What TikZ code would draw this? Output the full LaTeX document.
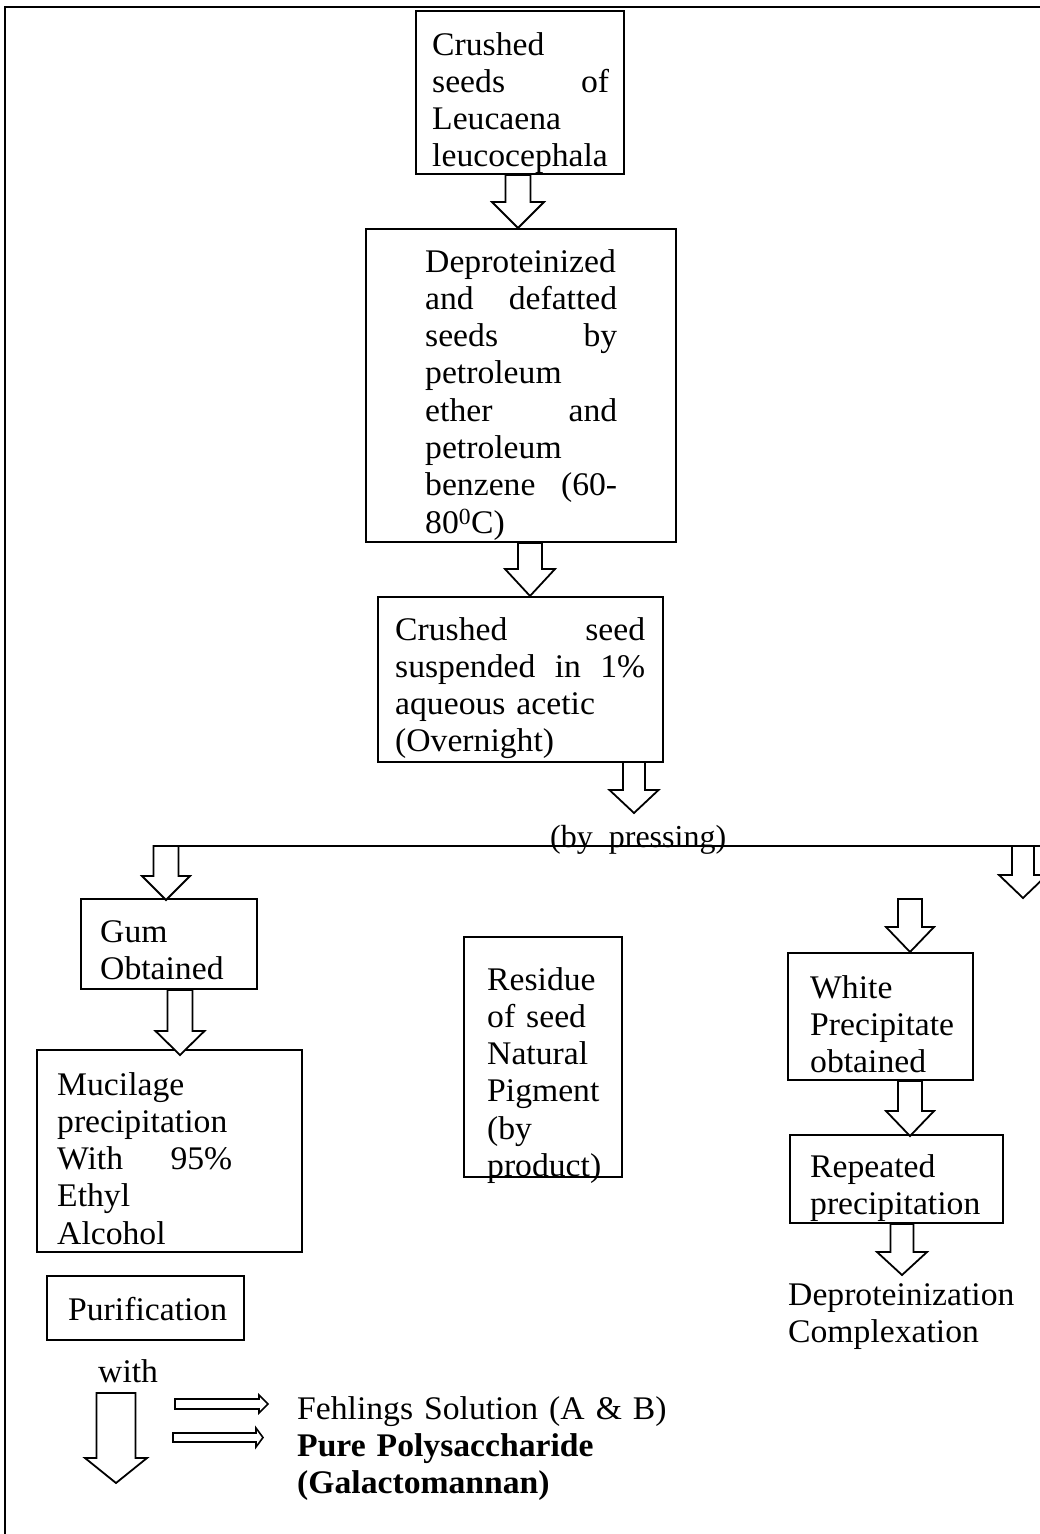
\documentclass[tikz,border=0pt]{standalone}
\usepackage{fontspec}
\setmainfont{Liberation Serif}[FakeStretch=1.02]
\newfontfamily\pressfont{Liberation Serif}
\usetikzlibrary{calc}
\tikzset{
  box/.style={draw, line width=2pt, inner sep=0pt},
  barrow/.style={draw, line width=1.8pt, fill=white, line join=miter},
  txt/.style={inner sep=0pt, anchor=base west, align=left, text width=330pt,
    font=\fontsize{33}{37.3}\selectfont},
  frame/.style={line width=2.6pt},
  pressline/.style={line width=1.3pt},
}
\newcommand{\J}[2]{\makebox[#1pt][l]{#2}}
\newcommand{\boxnode}[5]{\node[box, minimum width={(#4-#2)*1pt}, minimum height={(#5-#3)*1pt}] (#1) at ({(#2+#4)/2},{(#3+#5)/2}) {};}
% vertical block arrow: #1 start (top centre), #2 end (tip y), #3 shaft half, #4 head half, #5 head length
\newcommand{\blockdown}[5]{%
  \draw[barrow] let \p1=#1, \p2=#2 in
    (\x1-#3pt,\y1) -- (\x1+#3pt,\y1) -- (\x1+#3pt,\y2+#5pt) -- (\x1+#4pt,\y2+#5pt)
    -- (\x1,\y2) -- (\x1-#4pt,\y2+#5pt) -- (\x1-#3pt,\y2+#5pt) -- cycle;}
% horizontal block arrow
\newcommand{\blockright}[5]{%
  \draw[barrow, line width=1.6pt] let \p1=#1, \p2=#2 in
    (\x1,\y1+#3pt) -- (\x2-#5pt,\y1+#3pt) -- (\x2-#5pt,\y1+#4pt) -- (\x2,\y1)
    -- (\x2-#5pt,\y1-#4pt) -- (\x2-#5pt,\y1-#3pt) -- (\x1,\y1-#3pt) -- cycle;}
\begin{document}
\begin{tikzpicture}[x=1pt,y=-1pt]
\useasboundingbox (0,0) rectangle (1039,1534);
\fill[white] (0,0) rectangle (1039,1534);
% outer frame
\draw[frame] (5,1540) -- (5,7) -- (1045,7);

% boxes
\boxnode{b1}{416}{11}{624}{174}
\boxnode{b2}{366}{229}{676}{542}
\boxnode{b3}{378}{597}{663}{762}
\boxnode{gum}{81}{899}{257}{989}
\boxnode{muc}{37}{1050}{302}{1252}
\boxnode{pur}{47}{1276}{244}{1340}
\boxnode{res}{464}{937}{622}{1177}
\boxnode{white}{788}{953}{973}{1080}
\boxnode{rep}{790}{1135}{1003}{1223}

% texts
\node[txt] (t1) at (432,55) {Crushed\\ \J{177}{seeds\hfill of}\\ Leucaena\\ leucocephala};
\node[txt] (t2) at (425,272) {Deproteinized\\ \J{192}{and\hfill defatted}\\ \J{192}{seeds\hfill by}\\ petroleum\\ \J{192}{ether\hfill and}\\ petroleum\\ \J{192}{benzene\hfill (60-}\\ 80\textsuperscript{0}C)};
\node[txt] (t3) at (395,640) {\J{250}{Crushed\hfill seed}\\ \J{250}{suspended\hfill in\hfill 1\%}\\ aqueous acetic\\ (Overnight)};
\node[txt] (tgum) at (100,942) {Gum\\ Obtained};
\node[txt] (tmuc) at (57,1095) {Mucilage\\ precipitation\\ \J{175}{With\hfill 95\%}\\ Ethyl\\ Alcohol};
\node[txt] (tpur) at (68,1320) {Purification};
\node[txt] (tres) at (487,990) {Residue\\ of seed\\ Natural\\ Pigment\\ (by\\ product)};
\node[txt] (twhite) at (810,998) {White\\ Precipitate\\ obtained};
\node[txt] (trep) at (810,1177) {Repeated\\ precipitation};
\node[txt] (dep) at (788,1305) {Deproteinization\\ Complexation};
\node[txt] (with) at (98,1382) {with};
\node[txt, text width=500pt] (fehl) at (297,1419) {Fehlings Solution (A \& B)\\ \textbf{Pure Polysaccharide}\\ \textbf{(Galactomannan)}};

% pressing line and label
\coordinate (pl) at (166,846);
\coordinate (pr) at (1023,846);
\draw[pressline] (153,846) -- (1045,846);
\node[inner sep=0pt, anchor=base west, font=\pressfont\fontsize{32}{38}\selectfont] (press) at (550,847) {(by\ \ pressing)};

% named coordinates for free arrow ends
\coordinate (a3s) at (634,762);
\coordinate (a3e) at (634,813);
\coordinate (pre) at (1023,898);
\coordinate (wts) at (910,899);
\coordinate (deptop) at (902,1275);
\coordinate (ws) at (116,1393);
\coordinate (we) at (116,1483);
\coordinate (f1s) at (175,1404);
\coordinate (f1e) at (268,1404);
\coordinate (f2s) at (173,1437.5);
\coordinate (f2e) at (263,1437.5);

% block arrows
\blockdown{([xshift=-2pt]b1.south)}{(b2.north)}{12.5}{26}{26}
\blockdown{([xshift=9pt]b2.south)}{(b3.north)}{12}{25}{27}
\blockdown{(a3s)}{(a3e)}{11}{24.5}{23}
\blockdown{(pl)}{([yshift=-2pt]gum.north)}{12.5}{24}{24}
\blockdown{(pr)}{(pre)}{11}{24}{23}
\blockdown{(wts)}{(white.north)}{12}{24}{25}
\blockdown{([xshift=11pt]gum.south)}{([yshift=-6pt]muc.north)}{12.5}{24.5}{24}
\blockdown{([xshift=29.5pt]white.south)}{([yshift=-2pt]rep.north)}{12}{24}{25}
\blockdown{([xshift=5.5pt]rep.south)}{(deptop)}{11.5}{25}{23}
\blockdown{(ws)}{(we)}{19.5}{31}{25}
\blockright{(f1s)}{(f1e)}{5}{9}{9}
\blockright{(f2s)}{(f2e)}{4.5}{9.5}{7}
\end{tikzpicture}
\end{document}
